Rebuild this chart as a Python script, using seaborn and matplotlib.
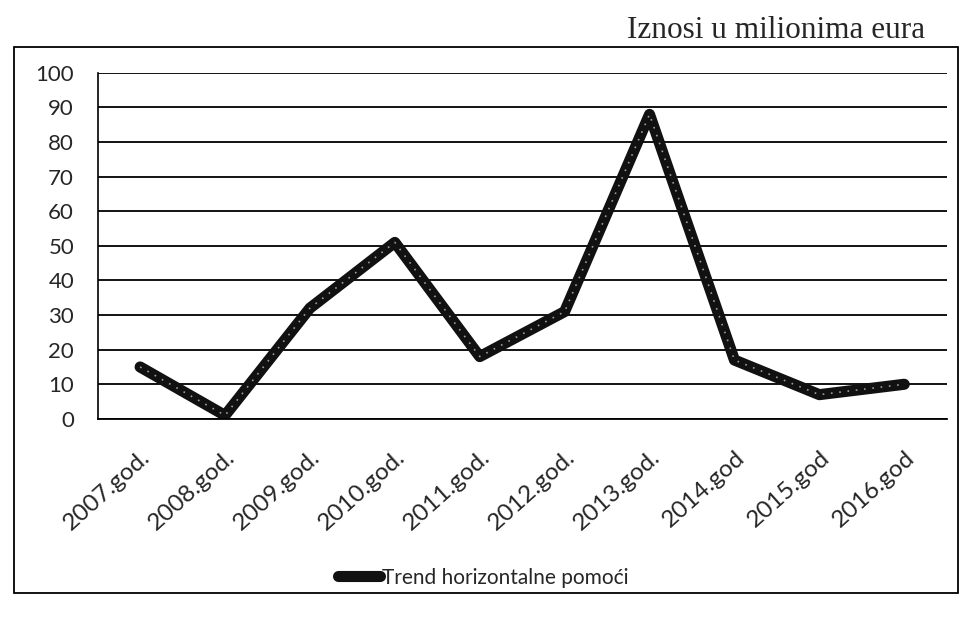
import matplotlib
matplotlib.use("Agg")
import matplotlib.pyplot as plt
import seaborn as sns
import pandas as pd
from matplotlib.patches import Rectangle
from matplotlib.lines import Line2D

categories = ["2007.god.", "2008.god.", "2009.god.", "2010.god.", "2011.god.",
              "2012.god.", "2013.god.", "2014.god", "2015.god", "2016.god"]
values = [15, 1, 32, 51, 18, 31, 88, 17, 7, 10]
series_name = "Trend horizontalne pomoći"
unit_label = "Iznosi u milionima eura"

df = pd.DataFrame({"cat": categories, "val": values, "series": series_name})

sns.set_theme(style="white")
plt.rcParams["font.family"] = ["Lato", "DejaVu Sans"]

fig = plt.figure(figsize=(9.67, 6.28), dpi=100)
ax = fig.add_axes([0.101, 0.333, 0.878, 0.551])

df["x"] = range(len(df))
sns.lineplot(data=df, x="x", y="val", ax=ax, color="#111111", linewidth=8,
             solid_joinstyle="round", solid_capstyle="round", legend=False)
sns.lineplot(data=df, x="x", y="val", ax=ax, color="#9a9a9a", linewidth=1.2,
             linestyle=(0, (1, 4)), legend=False)

ax.set_xlim(-0.5, len(categories) - 0.5)
ax.set_ylim(0, 100)
ax.set_yticks(range(0, 101, 10))
ax.set_xticks(range(len(categories)))
ax.set_xticklabels(categories, rotation=42, ha="right", rotation_mode="anchor", fontsize=17.5)
ax.tick_params(axis="y", labelsize=16, length=0, pad=17)
ax.tick_params(axis="x", length=0, pad=20)
ax.yaxis.grid(True, color="black", linewidth=1.3)
ax.set_axisbelow(True)
for s in ["top", "right"]:
    ax.spines[s].set_visible(False)
ax.spines["left"].set_color("black")
ax.spines["left"].set_linewidth(1.2)
ax.spines["bottom"].set_color("black")
ax.spines["bottom"].set_linewidth(1.3)
ax.set_xlabel("")
ax.set_ylabel("")

h = [Line2D([0], [0], color="#111111", linewidth=8)]
fig.legend(h, [series_name], loc="center", bbox_to_anchor=(0.5, 0.08), frameon=False,
           fontsize=15, handlelength=2.0, handletextpad=0.1)

fig.patches.append(Rectangle((0.014, 0.056), 0.977, 0.869, transform=fig.transFigure,
                             fill=False, edgecolor="black", linewidth=1.3))
fig.text(0.957, 0.9395, unit_label, ha="right", va="baseline", fontsize=22.5,
         family=["Liberation Serif", "DejaVu Serif"])

fig.savefig("out.png", dpi=100)
